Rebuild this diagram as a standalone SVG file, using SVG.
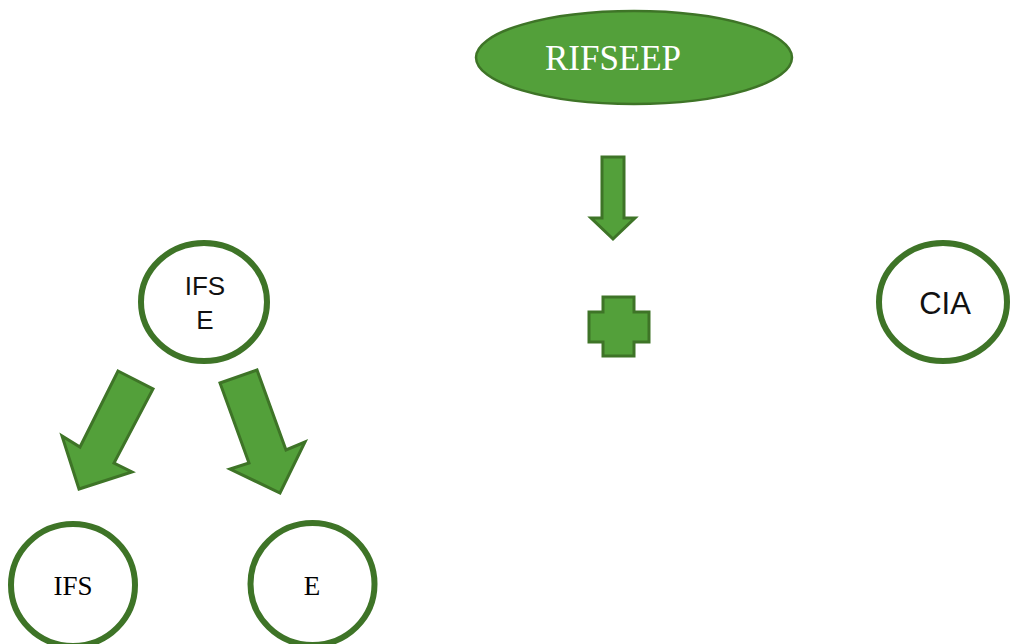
<svg xmlns="http://www.w3.org/2000/svg" width="1011" height="644" viewBox="0 0 1011 644">
<style>
.ring{fill:#ffffff;stroke:#3e7427;stroke-width:6}
.shape{fill:#53a03a;stroke:#3e7427;stroke-width:3;stroke-linejoin:miter}
.sans{font-family:"Liberation Sans",Arial,sans-serif;fill:#111111;text-anchor:middle}
.serif{font-family:"Liberation Serif","Times New Roman",serif;text-anchor:middle}
</style>
<rect width="1011" height="644" fill="#ffffff"/>
<g id="rifseep">
<ellipse cx="634" cy="57.5" rx="158" ry="46.5" fill="#53a03a" stroke="#3e7427" stroke-width="2.5"/>
<text x="613" y="70" class="serif" font-size="35" fill="#ffffff">RIFSEEP</text>
</g>
<g id="connectors">
<polygon class="shape" points="602,157 624,157 624,218 635,218 613,239 591,218 602,218"/>
<polygon class="shape" points="118,371 153,389 114,463 132,472 79,489 62,436 80,447"/>
<polygon class="shape" points="220,383 257,370 286,450 305,442 280,493 230,469 249,463"/>
</g>
<g id="plus">
<polygon class="shape" points="603,297 634,297 634,312 649,312 649,342 634,342 634,356 603,356 603,342 589,342 589,312 603,312"/>
</g>
<g id="ifse">
<ellipse cx="204" cy="302" rx="63" ry="59" class="ring"/>
<text x="205" y="295" class="sans" font-size="26">IFS</text>
<text x="205" y="329" class="sans" font-size="26">E</text>
</g>
<g id="cia">
<ellipse cx="943" cy="302" rx="64" ry="59" class="ring"/>
<text x="945" y="314" class="sans" font-size="31">CIA</text>
</g>
<g id="ifs">
<ellipse cx="73" cy="585" rx="62" ry="61" class="ring" stroke-width="7"/>
<text x="73" y="595" class="serif" font-size="27" fill="#000000">IFS</text>
</g>
<g id="e">
<ellipse cx="312.5" cy="584" rx="62" ry="61" class="ring" stroke-width="7"/>
<text x="312" y="595" class="serif" font-size="27" fill="#000000">E</text>
</g>
</svg>
